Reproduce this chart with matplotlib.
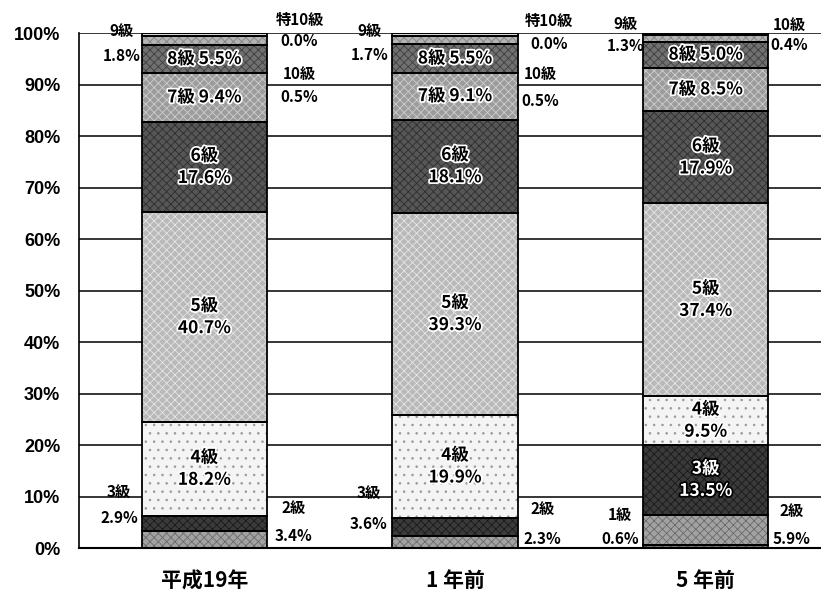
import matplotlib
matplotlib.use('Agg')
import matplotlib.pyplot as plt
import matplotlib.patheffects as pe
import numpy as np

plt.rcParams['font.family'] = ['Noto Sans CJK JP', 'DejaVu Sans']
plt.rcParams['hatch.linewidth'] = 0.6

categories = ['平成19年', '1 年前', '5 年前']
grades = ['1級', '2級', '3級', '4級', '5級', '6級', '7級', '8級', '9級', '10級', '特10級']
share_h19 = [0.0, 3.4, 2.9, 18.2, 40.7, 17.6, 9.4, 5.5, 1.8, 0.5, 0.0]
share_1y = [0.0, 2.3, 3.6, 19.9, 39.3, 18.1, 9.1, 5.5, 1.7, 0.5, 0.0]
share_5y = [0.6, 5.9, 13.5, 9.5, 37.4, 17.9, 8.5, 5.0, 1.3, 0.4, 0.0]
yticks = [0, 10, 20, 30, 40, 50, 60, 70, 80, 90, 100]

shares = np.array([share_h19, share_1y, share_5y])

# grey "scanned" look: face colour, hatch, hatch colour
faces = ['#7a7a7a', '#a2a2a2', '#3a3a3a', '#f4f4f4', '#b9b9b9', '#565656',
         '#9c9c9c', '#707070', '#b4b4b4', '#d8d8d8', '#ffffff']
hatches = ['xxxx', 'xxxx', 'xxxx', '..', 'xxxx', 'xxxx', 'xxxx', 'xxxx', 'xxxx', '', '']
hcols = ['#4a4a4a', '#6a6a6a', '#1a1a1a', '#9a9a9a', '#e6e6e6', '#2e2e2e',
         '#cfcfcf', '#3e3e3e', '#808080', '#d8d8d8', '#ffffff']
one_line = ['7級', '8級']

fig = plt.figure(figsize=(8.21, 5.99), dpi=100)
ax = fig.add_axes([0.0962, 0.0851, 0.9038, 0.8598])

x = np.arange(len(categories))
width = 0.5

for y in yticks[1:]:
    ax.axhline(y, color='black', lw=1.1, zorder=0)

bottom = np.zeros(len(categories))
for i, g in enumerate(grades):
    vals = shares[:, i]
    ax.bar(x, vals, width, bottom=bottom, color=faces[i], hatch=hatches[i],
           edgecolor=hcols[i], linewidth=0, zorder=2)
    ax.bar(x, vals, width, bottom=bottom, fill=False, edgecolor='black',
           linewidth=1.3, zorder=3)
    for j in range(len(categories)):
        v = vals[j]
        yc = bottom[j] + v / 2
        if g in one_line:
            txt = f'{g} {v:.1f}%'
        elif v >= 9:
            txt = f'{g}\n{v:.1f}%'
        else:
            continue
        dark = faces[i] in ('#3a3a3a',)
        ax.text(x[j], yc, txt, ha='center', va='center', fontsize=12.5,
                fontweight='bold', color='white' if dark else 'black',
                linespacing=1.3, zorder=5,
                path_effects=[pe.withStroke(linewidth=2.5,
                                            foreground='black' if dark else 'white')])
    bottom += vals

# labels for the thin segments, set beside the bars:
# (bar, grade, x offset, y of name, y of value)
outside = [
    (0, 8, -0.33, 100.4, 95.5), (0, 10, 0.38, 102.5, 98.4), (0, 9, 0.38, 92.0, 87.6),
    (0, 2, -0.34, 10.9, 5.8), (0, 1, 0.355, 7.8, 2.3),
    (1, 8, -0.34, 100.4, 95.7), (1, 10, 0.375, 102.3, 97.9), (1, 9, 0.34, 92.0, 86.8),
    (1, 2, -0.345, 10.7, 4.7), (1, 1, 0.35, 7.6, 1.7),
    (2, 0, -0.343, 6.4, 1.7), (2, 1, 0.343, 7.2, 1.7),
    (2, 8, -0.32, 101.7, 97.5), (2, 9, 0.335, 101.6, 97.7),
]
for b, gi, dx, yn, yv in outside:
    ax.text(x[b] + dx, yn, grades[gi], ha='center', va='center', fontsize=11,
            fontweight='bold', zorder=5, clip_on=False)
    ax.text(x[b] + dx, yv, f'{shares[b, gi]:.1f}%', ha='center', va='center',
            fontsize=11, fontweight='bold', zorder=5, clip_on=False)

ax.set_xlim(-0.5, 2.46)
ax.set_ylim(0, 100)
ax.set_yticks(yticks)
ax.set_yticklabels([f'{t}%' for t in yticks], family='Liberation Sans',
                   fontweight='bold', fontsize=13)
ax.set_xticks(x)
ax.set_xticklabels(categories, fontsize=15, fontweight='bold')
ax.tick_params(axis='y', length=0, pad=13.5)
ax.tick_params(axis='x', length=0, pad=16)
for s in ['top', 'right']:
    ax.spines[s].set_visible(False)
ax.spines['left'].set_linewidth(1.2)
ax.spines['bottom'].set_linewidth(1.5)

fig.savefig('out.png', dpi=100)
